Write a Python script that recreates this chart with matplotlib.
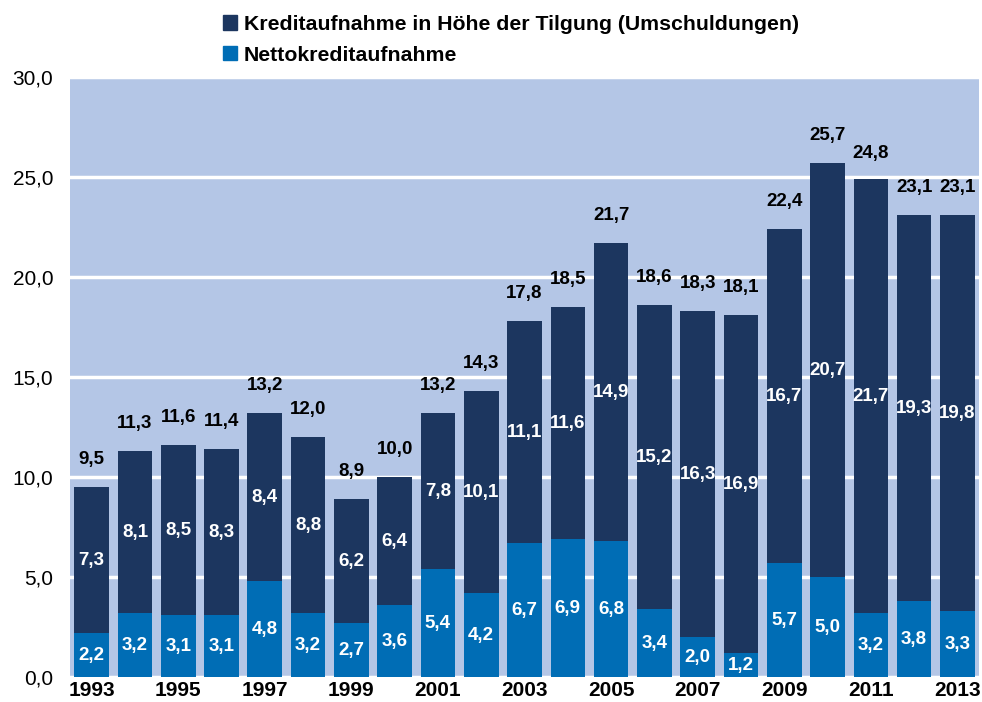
import matplotlib.pyplot as plt
from matplotlib.patches import Patch
import numpy as np

plt.rcParams['font.family'] = ['Liberation Sans', 'DejaVu Sans']

years = list(range(1993, 2014))
netto = [2.2, 3.2, 3.1, 3.1, 4.8, 3.2, 2.7, 3.6, 5.4, 4.2, 6.7,
         6.9, 6.8, 3.4, 2.0, 1.2, 5.7, 5.0, 3.2, 3.8, 3.3]
umschuld = [7.3, 8.1, 8.5, 8.3, 8.4, 8.8, 6.2, 6.4, 7.8, 10.1, 11.1,
            11.6, 14.9, 15.2, 16.3, 16.9, 16.7, 20.7, 21.7, 19.3, 19.8]
totals = [9.5, 11.3, 11.6, 11.4, 13.2, 12.0, 8.9, 10.0, 13.2, 14.3, 17.8,
          18.5, 21.7, 18.6, 18.3, 18.1, 22.4, 25.7, 24.8, 23.1, 23.1]

c_dark = '#1C365F'
c_blue = '#006DB5'
c_bg = '#B4C6E6'

def de(v):
    return f'{v:.1f}'.replace('.', ',')

fig = plt.figure(figsize=(9.82, 7.02), dpi=100)
ax = fig.add_axes([0.0713, 0.0356, 0.9257, 0.8547])
ax.set_facecolor(c_bg)

x = np.arange(len(years))
ax.bar(x, netto, width=0.8, color=c_blue, zorder=3)
ax.bar(x, umschuld, width=0.8, bottom=netto, color=c_dark, zorder=3)

for i in range(len(years)):
    ax.text(x[i], netto[i] / 2, de(netto[i]), ha='center', va='center',
            color='white', fontsize=13.5, fontweight='bold', zorder=4)
    ax.text(x[i], netto[i] + umschuld[i] / 2, de(umschuld[i]), ha='center',
            va='center', color='white', fontsize=13.5, fontweight='bold', zorder=4)
    ax.annotate(de(totals[i]), (x[i], totals[i]), xytext=(0, 20),
                textcoords='offset points', ha='center', va='center',
                fontsize=13.5, fontweight='bold', color='black')

ax.set_xlim(-0.5, len(years) - 0.5)
ax.set_ylim(0, 30)
ax.set_yticks(np.arange(0, 31, 5))
ax.set_yticklabels([de(v) for v in np.arange(0, 31, 5)], fontsize=15)
ax.set_xticks(x[::2])
ax.set_xticklabels([str(y) for y in years[::2]], fontsize=15, fontweight='bold')
ax.tick_params(axis='y', length=0, pad=12)
ax.tick_params(axis='x', length=0, pad=3)
ax.yaxis.grid(True, color='white', linewidth=2.5, zorder=1)
ax.set_axisbelow(True)
for s in ax.spines.values():
    s.set_visible(False)

handles = [Patch(color=c_dark, label='Kreditaufnahme in Höhe der Tilgung (Umschuldungen)'),
           Patch(color=c_blue, label='Nettokreditaufnahme')]
leg = fig.legend(handles=handles, loc='upper left', bbox_to_anchor=(0.208, 1.006),
                 frameon=False, handlelength=0.65, handleheight=0.65,
                 handletextpad=0.3, labelspacing=0.55,
                 prop={'size': 15.3, 'weight': 'bold'})

fig.savefig('out.png', dpi=100)
